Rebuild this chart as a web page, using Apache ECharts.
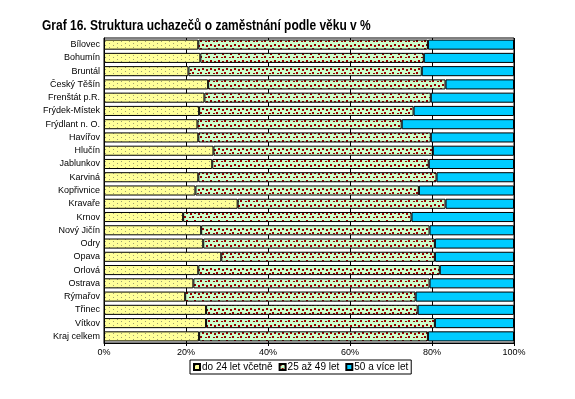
<!DOCTYPE html>
<html>
<head>
<meta charset="utf-8">
<script src="https://cdn.jsdelivr.net/npm/echarts@6/dist/echarts.min.js"></script>
<style>
  html, body { margin: 0; padding: 0; background: #fff; }
  #chart { width: 575px; height: 399px; }
</style>
</head>
<body>
<div id="chart"></div>
<script>
// okresy (shora dolu)
const districts = ['Bílovec', 'Bohumín', 'Bruntál', 'Český Těšín', 'Frenštát p.R.', 'Frýdek-Místek',
  'Frýdlant n. O.', 'Havířov', 'Hlučín', 'Jablunkov', 'Karviná', 'Kopřivnice', 'Kravaře', 'Krnov',
  'Nový Jičín', 'Odry', 'Opava', 'Orlová', 'Ostrava', 'Rýmařov', 'Třinec', 'Vítkov', 'Kraj celkem']

const seriesNames = ['do 24 let včetně', '25 až 49 let', '50 a více let']

// podíly v %
const young = [23.0, 23.5, 20.6, 25.4, 24.5, 23.2, 22.8, 23.0, 26.7, 26.4, 23.0, 22.3,
  32.6, 19.3, 23.7, 24.2, 28.6, 23.0, 21.8, 19.8, 24.9, 24.9, 23.2]
const middle = [56.0, 54.5, 56.9, 57.9, 55.2, 52.3, 49.8, 56.7, 53.5, 52.8, 58.1, 54.5,
  50.7, 55.7, 55.7, 56.5, 52.1, 58.9, 57.6, 56.2, 51.6, 55.8, 55.8]
const older = [21.0, 22.0, 22.5, 16.7, 20.3, 24.5, 27.4, 20.3, 19.8, 20.8, 18.9, 23.2,
  16.7, 25.0, 20.6, 19.3, 19.3, 18.1, 20.6, 24.0, 23.5, 19.3, 21.0]

const xTicks = ['0%', '20%', '40%', '60%', '80%', '100%']

// vzorky vyplne jako v Excelu
function makeTile(bg, fg, dots) {
  const c = document.createElement('canvas')
  c.width = 8
  c.height = 8
  const ctx = c.getContext('2d')
  ctx.fillStyle = bg
  ctx.fillRect(0, 0, 8, 8)
  ctx.fillStyle = fg
  dots.forEach(d => ctx.fillRect(d[0], d[1], d[2], d[3]))
  return c
}

const yellowTile = makeTile('#FFFF99', '#A0A070', [[1, 1, 1, 1], [5, 3, 1, 1], [1, 5, 1, 1], [5, 7, 1, 1]])
const greenTile = makeTile('#CCFFCC', '#990000', [[0, 0, 2, 2], [5, 1, 2, 1], [2, 4, 2, 2], [6, 5, 2, 2]])

const fills = [
  { image: yellowTile, repeat: 'repeat' },
  { image: greenTile, repeat: 'repeat' },
  '#00CCFF'
]
const values = [young, middle, older]

const chart = echarts.init(document.getElementById('chart'), null, { renderer: 'canvas' })

chart.setOption({
  backgroundColor: '#fff',
  animation: false,
  // nadpis je v originale uzsim pismem -> graficky text se zuzenim
  graphic: [{
    type: 'text',
    left: 42,
    top: 18,
    scaleX: 0.8,
    style: {
      text: 'Graf 16. Struktura uchazečů o zaměstnání podle věku v %',
      font: 'bold 15px "Liberation Sans", Arial, sans-serif',
      fill: '#000'
    }
  }],
  legend: {
    data: seriesNames,
    left: 190,
    top: 360,
    orient: 'horizontal',
    icon: 'rect',
    itemWidth: 6,
    itemHeight: 6,
    itemGap: 6,
    padding: [2, 3, 2, 3],
    borderColor: '#000',
    borderWidth: 1,
    textStyle: {
      fontFamily: 'Liberation Sans, Arial',
      fontSize: 10,
      color: '#000',
      padding: [0, 0, 0, -3]
    }
  },
  grid: {
    left: 104,
    right: 61,
    top: 38,
    bottom: 56,
    show: true,
    borderColor: '#000',
    borderWidth: 1
  },
  xAxis: {
    type: 'value',
    min: 0,
    max: 100,
    interval: 20,
    axisLine: { show: true, lineStyle: { color: '#000', width: 1 } },
    axisTick: { show: true, length: 3, lineStyle: { color: '#000' } },
    axisLabel: {
      formatter: v => xTicks[v / 20],
      fontFamily: 'Liberation Sans, Arial',
      fontSize: 9,
      color: '#000',
      margin: 5
    },
    splitLine: { show: true, lineStyle: { color: '#000', width: 1 } }
  },
  yAxis: {
    type: 'category',
    data: districts,
    inverse: true,
    axisLine: { show: true, lineStyle: { color: '#000', width: 1 } },
    axisTick: { show: false },
    axisLabel: {
      fontFamily: 'Liberation Sans, Arial',
      fontSize: 9,
      color: '#000',
      margin: 4
    }
  },
  series: seriesNames.map((name, i) => ({
    name: name,
    type: 'bar',
    stack: 'total',
    barCategoryGap: '24%',
    data: values[i],
    itemStyle: {
      color: fills[i],
      borderColor: '#000',
      borderWidth: 1
    }
  }))
})
</script>
</body>
</html>
